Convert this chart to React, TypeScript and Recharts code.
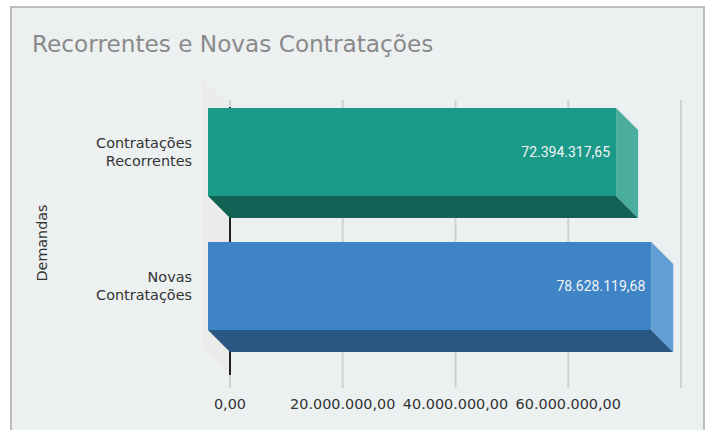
import React from "react";
import { BarChart, Bar, XAxis, YAxis, CartesianGrid, ReferenceArea } from "recharts";

const title = "Recorrentes e Novas Contratações";
const axisTitle = "Demandas";
const categories = ["Contratações Recorrentes", "Novas Contratações"];
const values = [72394317.65, 78628119.68];
const xTicks = [0, 20000000, 40000000, 60000000, 80000000];

// palette: front / bottom / side for each bar
const frontColors = ["#1b9a8a", "#3f84c7"];
const bottomColors = ["#116355", "#285882"];
const sideColors = ["#4aad9d", "#629dd3"];

const DEPTH = 22;
const WALL = 28;
const FONT = "'DejaVu Sans', Verdana, sans-serif";

const data = categories.map((name, i) => ({ name, value: values[i] }));

function formatBR(v: number) {
  const [int, dec] = v.toFixed(2).split(".");
  return int.replace(/\B(?=(\d{3})+(?!\d))/g, ".") + "," + dec;
}

function Bar3D(props: any) {
  const { x, y, width, height, index, payload } = props;
  const fx = x - DEPTH;
  const fy = y - DEPTH;
  return (
    <g>
      <polygon
        points={`${fx},${fy + height} ${fx + width},${fy + height} ${x + width},${y + height} ${x},${y + height}`}
        fill={bottomColors[index]}
      />
      <polygon
        points={`${fx + width},${fy} ${x + width},${y} ${x + width},${y + height} ${fx + width},${fy + height}`}
        fill={sideColors[index]}
      />
      <rect x={fx} y={fy} width={width} height={height} fill={frontColors[index]} />
      <text
        x={fx + width - 6}
        y={fy + height / 2}
        dy="0.35em"
        textAnchor="end"
        fill="#f4f4f4"
        fontFamily="Roboto, sans-serif"
        fontSize={14}
      >
        {formatBR(payload.value)}
      </text>
    </g>
  );
}

function Wall(props: any) {
  const { x, y, height } = props;
  return (
    <g>
      <polygon
        points={`${x - WALL},${y - WALL} ${x},${y} ${x},${y + height} ${x - WALL},${y + height - WALL}`}
        fill="#ebebeb"
      />
      <line x1={x} y1={y} x2={x} y2={y + height} stroke="#222" strokeWidth={2} />
    </g>
  );
}

function CategoryTick(props: any) {
  const { y, payload } = props;
  const words = String(payload.value).split(" ");
  const cy = y - DEPTH;
  return (
    <text x={192} y={cy} textAnchor="end" fill="#333" fontFamily={FONT} fontSize={14.4}>
      {words.map((w, i) => (
        <tspan key={i} x={192} y={cy + (i - (words.length - 1) / 2) * 17.5} dy="0.35em">
          {w}
        </tspan>
      ))}
    </text>
  );
}

function ValueTick(props: any) {
  const { x, y, payload } = props;
  if (payload.value === 80000000) return null;
  return (
    <text x={x} y={y} dy={13} textAnchor="middle" fill="#333" fontFamily={FONT} fontSize={14.4}>
      {formatBR(payload.value)}
    </text>
  );
}

export default function App() {
  return (
    <div style={{ position: "absolute", left: 0, top: 0, width: 707, height: 430, background: "#fff", overflow: "hidden" }}>
      <div
        style={{
          position: "absolute",
          left: 10,
          top: 6,
          width: 691,
          height: 440,
          background: "#edf0f1",
          borderTop: "2px solid #bcbcbc",
          borderLeft: "2px solid #bcbcbc",
          borderRight: "2px solid #bcbcbc",
        }}
      />
      <div
        style={{
          position: "absolute",
          left: 32,
          top: 30,
          fontFamily: FONT,
          fontSize: 23.2,
          color: "#8a8a8a",
          whiteSpace: "nowrap",
          lineHeight: "28px",
        }}
      >
        {title}
      </div>
      <div
        style={{
          position: "absolute",
          left: 42,
          top: 243,
          transform: "translate(-50%, -50%) rotate(-90deg)",
          fontFamily: FONT,
          fontSize: 14.3,
          color: "#333",
          whiteSpace: "nowrap",
        }}
      >
        {axisTitle}
      </div>
      <div style={{ position: "absolute", left: 0, top: 0 }}>
        <BarChart
          width={707}
          height={430}
          data={data}
          layout="vertical"
          margin={{ top: 100, right: 26, bottom: 12, left: 0 }}
        >
          <CartesianGrid horizontal={false} stroke="#cfd2d3" strokeWidth={2} />
          <ReferenceArea x1={0} x2={80000000} ifOverflow="visible" shape={<Wall />} zIndex={-50} />
          <XAxis
            type="number"
            domain={[0, 80000000]}
            ticks={xTicks}
            interval={0}
            axisLine={false}
            tickLine={false}
            height={30}
            tick={<ValueTick />}
          />
          <YAxis
            type="category"
            dataKey="name"
            width={230}
            axisLine={false}
            tickLine={false}
            padding={{ top: 7, bottom: 13 }}
            tick={<CategoryTick />}
          />
          <Bar dataKey="value" barSize={88} shape={<Bar3D />} isAnimationActive={false} />
        </BarChart>
      </div>
    </div>
  );
}
